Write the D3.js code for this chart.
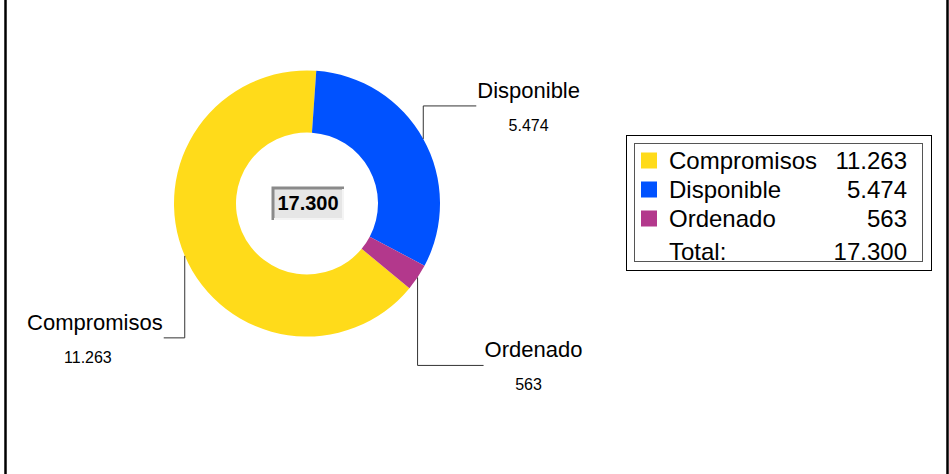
<!DOCTYPE html>
<html>
<head>
<meta charset="utf-8">
<script src="https://cdn.jsdelivr.net/npm/d3@7"></script>
<style>
  html, body { margin: 0; padding: 0; background: #fff; }
  svg { display: block; font-family: "Liberation Sans", Arial, sans-serif; }
</style>
</head>
<body>
<div id="chart"></div>
<script>
// chart data
const categories = ["Compromisos", "Disponible", "Ordenado"];
const values = [11263, 5474, 563];
const colors = ["#FFDB1A", "#0052FF", "#B3388C"];
const totalLabel = "Total:";

const width = 949, height = 474;
const center = {x: 307, y: 203.5};
const outerR = 133, innerR = 71;
// Disponible begins just right of 12 o'clock
const disponibleStartDeg = 4;

// leader line layout: vertical run then horizontal run, relative to slice anchor
// numDx nudges the value text under its label
const leaderLayout = [
    {dy: 82, dx: -21, numDx: -7},
    {dy: -33, dx: 53, numDx: 0},
    {dy: 88, dx: 66, numDx: -5}
];

const locale = d3.formatLocale({decimal: ",", thousands: ".", grouping: [3]});
const fmt = locale.format(",d");
const total = d3.sum(values);

const data = categories.map(function(c, i) {
    return {name: c, value: values[i], color: colors[i], leader: leaderLayout[i]};
});

// Compromisos is drawn first, so start it after Disponible + Ordenado
const startDeg = disponibleStartDeg + 360 * (values[1] + values[2]) / total;

let svg = d3.select("#chart")
    .append("svg")
    .attr("width", width)
    .attr("height", height);

// frame sides
svg.append("line").attr("x1", 5.5).attr("x2", 5.5).attr("y1", 0).attr("y2", height)
    .attr("stroke", "#000").attr("stroke-width", 2.5);
svg.append("line").attr("x1", 947.5).attr("x2", 947.5).attr("y1", 0).attr("y2", height)
    .attr("stroke", "#000").attr("stroke-width", 2.5);

let pie = d3.pie()
    .sort(null)
    .value(function(d) { return d.value; })
    .startAngle(startDeg * Math.PI / 180)
    .endAngle((startDeg + 360) * Math.PI / 180);

let arcGen = d3.arc().innerRadius(innerR).outerRadius(outerR);
let anchorArc = d3.arc().innerRadius(outerR).outerRadius(outerR);

let pieData = pie(data);

let g = svg.append("g").attr("transform", `translate(${center.x}, ${center.y})`);

g.selectAll("path.slice")
    .data(pieData)
    .enter()
    .append("path")
    .attr("class", "slice")
    .attr("d", arcGen)
    .attr("fill", function(d) { return d.data.color; });

// leader lines and labels
pieData.forEach(function(d) {
    let a = anchorArc.centroid(d);
    let ax = center.x + a[0], ay = center.y + a[1];
    let ey = ay + d.data.leader.dy;
    let ex = ax + d.data.leader.dx;
    svg.append("polyline")
        .attr("points", `${ax},${ay} ${ax},${ey} ${ex},${ey}`)
        .attr("fill", "none")
        .attr("stroke", "#333")
        .attr("stroke-width", 1);
    let right = d.data.leader.dx > 0;
    let label = svg.append("text")
        .attr("x", right ? ex + 1 : ex - 1)
        .attr("y", ey - 8)
        .style("text-anchor", right ? "start" : "end")
        .style("font-size", "22px")
        .attr("fill", "#000")
        .text(d.data.name);
    let w = label.node().getComputedTextLength();
    let cx = right ? ex + 1 + w / 2 : ex - 1 - w / 2;
    svg.append("text")
        .attr("x", cx + d.data.leader.numDx)
        .attr("y", ey + 25)
        .style("text-anchor", "middle")
        .style("font-size", "16px")
        .attr("fill", "#000")
        .text(fmt(d.data.value));
});

// center total box
let box = {x: 272, y: 187, w: 72, h: 33};
svg.append("rect").attr("x", box.x).attr("y", box.y).attr("width", box.w).attr("height", box.h)
    .attr("fill", "#e6e6e6");
svg.append("polyline")
    .attr("points", `${box.x + 1},${box.y + box.h} ${box.x + 1},${box.y + 1} ${box.x + box.w},${box.y + 1}`)
    .attr("fill", "none").attr("stroke", "#8a8a8a").attr("stroke-width", 3);
svg.append("polyline")
    .attr("points", `${box.x + box.w - 1},${box.y + 2} ${box.x + box.w - 1},${box.y + box.h - 1} ${box.x + 2},${box.y + box.h - 1}`)
    .attr("fill", "none").attr("stroke", "#f4f4f4").attr("stroke-width", 2);
svg.append("text")
    .attr("x", box.x + box.w / 2)
    .attr("y", 210)
    .style("text-anchor", "middle")
    .style("font-size", "20px")
    .style("font-weight", "bold")
    .attr("fill", "#000")
    .text(fmt(total));

// legend
let lg = svg.append("g");
lg.append("rect").attr("x", 626.5).attr("y", 135.5).attr("width", 305).attr("height", 135)
    .attr("fill", "none").attr("stroke", "#000").attr("stroke-width", 1);
lg.append("rect").attr("x", 634.5).attr("y", 143.5).attr("width", 288).attr("height", 118)
    .attr("fill", "none").attr("stroke", "#555").attr("stroke-width", 1);

let rowBase = [169, 198, 227];
data.forEach(function(d, i) {
    lg.append("rect")
        .attr("x", 641).attr("y", rowBase[i] - 16.5)
        .attr("width", 16).attr("height", 16)
        .attr("fill", d.color);
    lg.append("text")
        .attr("x", 669).attr("y", rowBase[i])
        .style("font-size", "24px")
        .text(d.name);
    lg.append("text")
        .attr("x", 907).attr("y", rowBase[i])
        .style("text-anchor", "end")
        .style("font-size", "24px")
        .text(fmt(d.value));
});
lg.append("text").attr("x", 669).attr("y", 259.5)
    .style("font-size", "24px").text(totalLabel);
lg.append("text").attr("x", 907).attr("y", 259.5)
    .style("text-anchor", "end").style("font-size", "24px").text(fmt(total));
</script>
</body>
</html>
